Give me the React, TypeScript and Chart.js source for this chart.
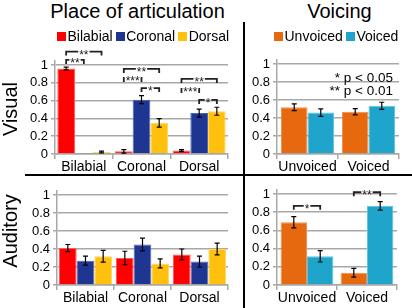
import React, { useEffect, useRef } from 'react';
import { Chart, registerables } from 'chart.js';

Chart.register(...registerables);

const FONT = '"Liberation Sans", Arial, Helvetica, sans-serif';
Chart.defaults.font.family = FONT;

// ---------- categories / series names ----------
const placeCategories = ['Bilabial', 'Coronal', 'Dorsal'];
const placeSeriesNames = ['Bilabial', 'Coronal', 'Dorsal'];
const voicingCategories = ['Unvoiced', 'Voiced'];
const voicingSeriesNames = ['Unvoiced', 'Voiced'];

// ---------- Visual / Place of articulation ----------
const visPlaceBilabial = [0.96, 0.03, 0.04];
const visPlaceBilabialErr = [0.015, 0.02, 0.01];
const visPlaceCoronal = [0.012, 0.61, 0.46];
const visPlaceCoronalErr = [0, 0.045, 0.045];
const visPlaceDorsal = [0.022, 0.35, 0.48];
const visPlaceDorsalErr = [0.01, 0.048, 0.045];

// ---------- Visual / Voicing ----------
const visVoiceUnvoiced = [0.52, 0.47];
const visVoiceUnvoicedErr = [0.037, 0.035];
const visVoiceVoiced = [0.46, 0.535];
const visVoiceVoicedErr = [0.042, 0.04];

// ---------- Auditory / Place of articulation ----------
const audPlaceBilabial = [0.41, 0.30, 0.34];
const audPlaceBilabialErr = [0.04, 0.075, 0.06];
const audPlaceCoronal = [0.27, 0.45, 0.26];
const audPlaceCoronalErr = [0.05, 0.07, 0.06];
const audPlaceDorsal = [0.32, 0.24, 0.40];
const audPlaceDorsalErr = [0.065, 0.05, 0.065];

// ---------- Auditory / Voicing ----------
const audVoiceUnvoiced = [0.69, 0.135];
const audVoiceUnvoicedErr = [0.062, 0.048];
const audVoiceVoiced = [0.315, 0.87];
const audVoiceVoicedErr = [0.062, 0.047];

// ---------- significance brackets ----------
const visPlaceBrackets = [
  { cat: 0, from: 0, to: 2, level: 1.15, label: '**' },
  { cat: 0, from: 0, to: 1, level: 1.056, label: '**' },
  { cat: 1, from: 0, to: 2, level: 0.955, label: '**' },
  { cat: 1, from: 0, to: 1, level: 0.854, label: '***' },
  { cat: 1, from: 1, to: 2, level: 0.74, label: '*' },
  { cat: 2, from: 0, to: 2, level: 0.843, label: '**' },
  { cat: 2, from: 0, to: 1, level: 0.73, label: '***' },
  { cat: 2, from: 1, to: 2, level: 0.607, label: '*' },
];
const audVoiceBrackets = [
  { cat: 0, from: 0, to: 1, level: 0.87, label: '*' },
  { cat: 1, from: 0, to: 1, level: 1.02, label: '**' },
];

const pValueNotes = ['* p < 0.05', '** p < 0.01'];

const placeColors = ['#FF0000', '#1F3592', '#FFC10E'];
const placeBorders = ['#FF5A5A', '#4D66BE', '#FFD760'];
const voicingColors = ['#E6680F', '#1FA5CB'];
const voicingBorders = ['#F28E4A', '#62C3DE'];

type Series = { name: string; data: number[]; err: number[]; color: string; border: string };
type Bracket = { cat: number; from: number; to: number; level: number; label: string };

const errorBarPlugin = {
  id: 'errorBars',
  afterDatasetsDraw(chart: any) {
    const ctx = chart.ctx;
    const y = chart.scales.y;
    ctx.save();
    ctx.strokeStyle = '#000';
    ctx.lineWidth = 1.2;
    chart.data.datasets.forEach((ds: any, di: number) => {
      const meta = chart.getDatasetMeta(di);
      const errs: number[] = ds.errors || [];
      meta.data.forEach((bar: any, i: number) => {
        const e = errs[i];
        if (!e) return;
        const v = ds.data[i];
        const x = bar.x;
        const yt = y.getPixelForValue(v + e);
        const yb = y.getPixelForValue(Math.max(0, v - e));
        ctx.beginPath();
        ctx.moveTo(x, yt);
        ctx.lineTo(x, yb);
        ctx.moveTo(x - 2.5, yt);
        ctx.lineTo(x + 2.5, yt);
        ctx.moveTo(x - 2.5, yb);
        ctx.lineTo(x + 2.5, yb);
        ctx.stroke();
      });
    });
    ctx.restore();
  },
};

const bracketPlugin = {
  id: 'brackets',
  afterDatasetsDraw(chart: any, _args: any, opts: any) {
    const items: Bracket[] = (opts && opts.items) || [];
    if (!items.length) return;
    const ctx = chart.ctx;
    const y = chart.scales.y;
    const fs = 12;
    ctx.save();
    ctx.font = `${fs}px ${FONT}`;
    ctx.strokeStyle = '#222';
    ctx.fillStyle = '#222';
    ctx.lineWidth = 1.8;
    items.forEach((b) => {
      const x1 = chart.getDatasetMeta(b.from).data[b.cat].x;
      const x2 = chart.getDatasetMeta(b.to).data[b.cat].x;
      const yy = y.getPixelForValue(b.level);
      const tw = ctx.measureText(b.label).width;
      const cx = (x1 + x2) / 2;
      ctx.beginPath();
      ctx.moveTo(x1, yy + 4);
      ctx.lineTo(x1, yy);
      ctx.lineTo(cx - tw / 2 - 1, yy);
      ctx.moveTo(cx + tw / 2 + 1, yy);
      ctx.lineTo(x2, yy);
      ctx.lineTo(x2, yy + 4);
      ctx.stroke();
      ctx.textAlign = 'center';
      ctx.textBaseline = 'alphabetic';
      ctx.fillText(b.label, cx, yy + fs * 0.6);
    });
    ctx.restore();
  },
};

const GRID = '#a8a8a8';

function buildConfig(
  labels: string[],
  series: Series[],
  yWidth: number,
  xHeight: number,
  padTop: number,
  padRight: number,
  catPct: number,
  brackets: Bracket[]
): any {
  return {
    type: 'bar',
    data: {
      labels,
      datasets: series.map((s) => ({
        label: s.name,
        data: s.data,
        errors: s.err,
        backgroundColor: s.color,
        borderColor: s.border,
        borderWidth: 1,
        categoryPercentage: catPct,
        barPercentage: 1,
      })),
    },
    options: {
      responsive: false,
      animation: false,
      devicePixelRatio: 1,
      layout: { padding: { left: 0, right: padRight, top: padTop, bottom: 0 } },
      plugins: {
        legend: { display: false },
        tooltip: { enabled: false },
        title: { display: false },
        brackets: { items: brackets },
      },
      scales: {
        x: {
          grid: {
            drawOnChartArea: false,
            drawTicks: true,
            tickLength: 5,
            color: GRID,
            lineWidth: 1.5,
            offset: true,
          },
          border: { display: true, color: GRID, width: 1.5 },
          ticks: {
            color: '#000',
            font: { size: 14, family: FONT },
            padding: 0,
            maxRotation: 0,
            minRotation: 0,
            autoSkip: false,
          },
          afterFit: (s: any) => {
            s.height = xHeight;
          },
        },
        y: {
          min: 0,
          max: 1.05,
          bounds: 'data',
          grid: { color: GRID, lineWidth: 1.5, drawTicks: true, tickLength: 4 },
          border: { display: true, color: GRID, width: 1.5 },
          ticks: {
            stepSize: 0.2,
            includeBounds: false,
            color: '#000',
            padding: 3,
            font: { size: 13, family: FONT },
            callback: (v: any) => String(Math.round(Number(v) * 10) / 10),
          },
          afterFit: (s: any) => {
            s.width = yWidth;
          },
        },
      },
    },
    plugins: [errorBarPlugin, bracketPlugin],
  };
}

function Panel(props: { left: number; top: number; width: number; height: number; make: () => any }) {
  const ref = useRef<HTMLCanvasElement | null>(null);
  useEffect(() => {
    if (!ref.current) return;
    const chart = new Chart(ref.current, props.make());
    return () => chart.destroy();
  }, []);
  return (
    <canvas
      ref={ref}
      width={props.width}
      height={props.height}
      style={{ position: 'absolute', left: props.left, top: props.top, width: props.width, height: props.height }}
    />
  );
}

const placeSeries = (d: number[][], e: number[][]): Series[] =>
  placeSeriesNames.map((n, i) => ({ name: n, data: d[i], err: e[i], color: placeColors[i], border: placeBorders[i] }));
const voicingSeries = (d: number[][], e: number[][]): Series[] =>
  voicingSeriesNames.map((n, i) => ({ name: n, data: d[i], err: e[i], color: voicingColors[i], border: voicingBorders[i] }));

function Legend(props: { left: number; names: string[]; colors: string[] }) {
  return (
    <div
      style={{
        position: 'absolute',
        left: props.left,
        top: 29,
        height: 14,
        display: 'flex',
        alignItems: 'center',
        fontSize: 14,
        lineHeight: '14px',
        whiteSpace: 'nowrap',
      }}
    >
      {props.names.map((n, i) => (
        <div key={n} style={{ display: 'flex', alignItems: 'center', marginRight: 3 }}>
          <div style={{ width: 9, height: 9, background: props.colors[i], marginRight: 1.5 }} />
          <span>{n}</span>
        </div>
      ))}
    </div>
  );
}

export default function App() {
  return (
    <div
      style={{
        position: 'fixed',
        left: 0,
        top: 0,
        width: 412,
        height: 308,
        background: '#fff',
        overflow: 'hidden',
        fontFamily: FONT,
        color: '#000',
      }}
    >
      <Panel
        left={0}
        top={40}
        width={240}
        height={135}
        make={() =>
          buildConfig(
            placeCategories,
            placeSeries(
              [visPlaceBilabial, visPlaceCoronal, visPlaceDorsal],
              [visPlaceBilabialErr, visPlaceCoronalErr, visPlaceDorsalErr]
            ),
            55,
            21,
            20.5,
            12,
            0.92,
            visPlaceBrackets
          )
        }
      />
      <Panel
        left={246}
        top={40}
        width={166}
        height={135}
        make={() =>
          buildConfig(
            voicingCategories,
            voicingSeries([visVoiceUnvoiced, visVoiceVoiced], [visVoiceUnvoicedErr, visVoiceVoicedErr]),
            31,
            21,
            19.5,
            13,
            0.87,
            []
          )
        }
      />
      <Panel
        left={0}
        top={178}
        width={240}
        height={130}
        make={() =>
          buildConfig(
            placeCategories,
            placeSeries(
              [audPlaceBilabial, audPlaceCoronal, audPlaceDorsal],
              [audPlaceBilabialErr, audPlaceCoronalErr, audPlaceDorsalErr]
            ),
            57,
            23,
            12.5,
            12,
            0.93,
            []
          )
        }
      />
      <Panel
        left={246}
        top={178}
        width={166}
        height={130}
        make={() =>
          buildConfig(
            voicingCategories,
            voicingSeries([audVoiceUnvoiced, audVoiceVoiced], [audVoiceUnvoicedErr, audVoiceVoicedErr]),
            31,
            23,
            11.5,
            15,
            0.88,
            audVoiceBrackets
          )
        }
      />

      {/* titles */}
      <div
        style={{
          position: 'absolute',
          left: 137.5,
          top: 0.5,
          transform: 'translateX(-50%)',
          fontSize: 20,
          lineHeight: '20px',
          whiteSpace: 'nowrap',
        }}
      >
        Place of articulation
      </div>
      <div
        style={{
          position: 'absolute',
          left: 339.5,
          top: 0.5,
          transform: 'translateX(-50%)',
          fontSize: 20,
          lineHeight: '20px',
          whiteSpace: 'nowrap',
        }}
      >
        Voicing
      </div>

      {/* legends */}
      <Legend left={57} names={placeSeriesNames} colors={placeColors} />
      <Legend left={274} names={voicingSeriesNames} colors={voicingColors} />

      {/* p-value notes */}
      {pValueNotes.map((t, i) => (
        <div
          key={t}
          style={{
            position: 'absolute',
            right: 412 - 393,
            top: 71.2 + i * 13,
            fontSize: 13.5,
            lineHeight: '14px',
            whiteSpace: 'nowrap',
          }}
        >
          {t}
        </div>
      ))}

      {/* row labels */}
      {[
        { t: 'Visual', cy: 108.5 },
        { t: 'Auditory', cy: 230.5 },
      ].map((r) => (
        <div
          key={r.t}
          style={{
            position: 'absolute',
            left: 10.4,
            top: r.cy,
            transform: 'translate(-50%, -50%) rotate(-90deg)',
            fontSize: 20,
            lineHeight: '20px',
            whiteSpace: 'nowrap',
          }}
        >
          {r.t}
        </div>
      ))}

      {/* dividers */}
      <div style={{ position: 'absolute', left: 243.3, top: 22, width: 2, height: 286, background: '#000' }} />
      <div style={{ position: 'absolute', left: 25, top: 174, width: 387, height: 2, background: '#000' }} />
    </div>
  );
}
